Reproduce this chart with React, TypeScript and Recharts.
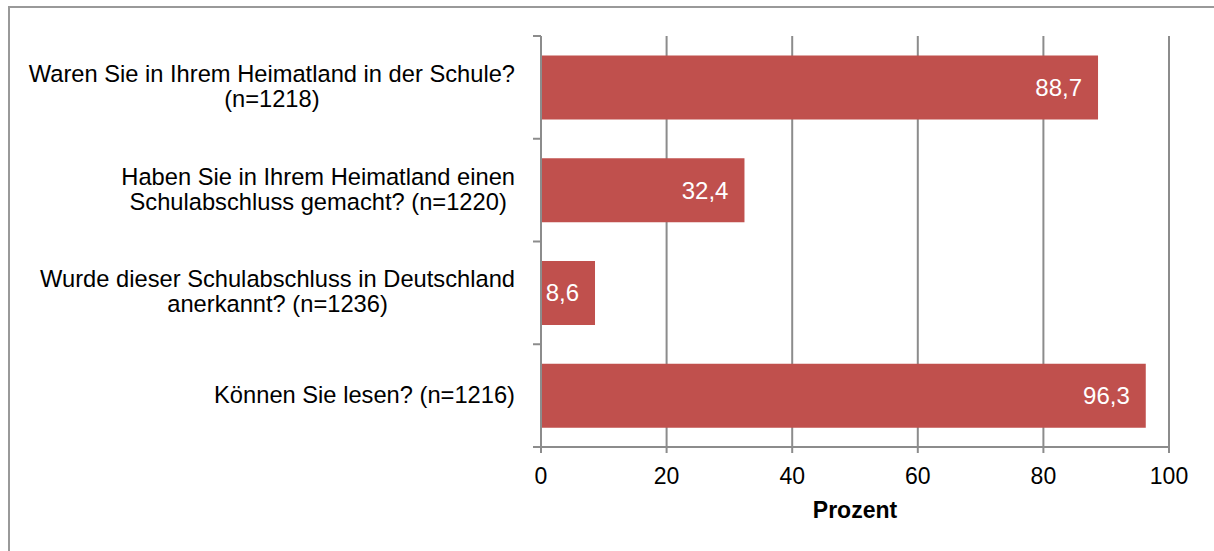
import React from 'react';
import { BarChart, Bar, XAxis, YAxis, CartesianGrid, LabelList, Label } from 'recharts';

const categories = [
  'Waren Sie in Ihrem Heimatland in der Schule?\n(n=1218)',
  'Haben Sie in Ihrem Heimatland einen\nSchulabschluss gemacht? (n=1220)',
  'Wurde dieser Schulabschluss in Deutschland\nanerkannt? (n=1236)',
  'Können Sie lesen? (n=1216)',
];
const percent = [88.7, 32.4, 8.6, 96.3];
const xTicks = [0, 20, 40, 60, 80, 100];
const axisTitle = 'Prozent';

const FONT = "'Liberation Sans', Arial, sans-serif";
const GREY = '#8c8c8c';
const BAR = '#c0504d';
const LINE_H = 25;
const CAT_SIZE = 23.7;

let ctx: CanvasRenderingContext2D | null = null;
function textWidth(s: string, size: number) {
  if (!ctx) ctx = document.createElement('canvas').getContext('2d');
  if (!ctx) return s.length * size * 0.5;
  ctx.font = `${size}px ${FONT}`;
  return ctx.measureText(s).width;
}

// Excel style: tick marks sit between the categories, text block centred per line
// eslint-disable-next-line @typescript-eslint/no-explicit-any
function CategoryTick(props: any) {
  const { x, y, payload, index, visibleTicksCount } = props;
  const lines = String(payload.value).split('\n');
  const half = payload.offset ?? 0;
  const maxW = Math.max(...lines.map(l => textWidth(l, CAT_SIZE)));
  const cx = x - 26 - maxW / 2;
  const top = y - ((lines.length - 1) * LINE_H) / 2;
  return (
    <g>
      <line x1={x - 8} x2={x} y1={y - half} y2={y - half} stroke={GREY} strokeWidth={2} />
      {index === visibleTicksCount - 1 && (
        <line x1={x - 8} x2={x} y1={y + half} y2={y + half} stroke={GREY} strokeWidth={2} />
      )}
      <text textAnchor="middle" fontSize={CAT_SIZE} fontFamily={FONT} fill="#000">
        {lines.map((l, i) => (
          <tspan key={i} x={cx} y={top + i * LINE_H} dy="0.3em">{l}</tspan>
        ))}
      </text>
    </g>
  );
}

// eslint-disable-next-line @typescript-eslint/no-explicit-any
function ValueLabel(props: any) {
  const { x, y, width, height, value } = props;
  const label = Number(value).toFixed(1).replace('.', ',');
  return (
    <text
      x={x + width - 16}
      y={y + height / 2}
      dy="0.35em"
      textAnchor="end"
      fill="#fff"
      fontSize={24}
      fontFamily={FONT}
    >
      {label}
    </text>
  );
}

// eslint-disable-next-line @typescript-eslint/no-explicit-any
function AxisTitle(props: any) {
  const vb = props.viewBox;
  return (
    <text
      x={vb.x + vb.width / 2}
      y={vb.y + 71}
      textAnchor="middle"
      fontSize={23}
      fontWeight={700}
      fontFamily={FONT}
      fill="#000"
    >
      {axisTitle}
    </text>
  );
}

export default function App() {
  const data = categories.map((name, i) => ({ name, value: percent[i] }));

  return (
    <div style={{
      position: 'absolute', left: 0, top: 0, width: 1214, height: 551,
      overflow: 'hidden', background: '#fff',
    }}>
      <div style={{
        position: 'absolute', left: 8, top: 6, width: 1400, height: 800,
        border: `2px solid #999`,
      }} />
      <div style={{ position: 'relative' }}>
        <BarChart
          width={1214}
          height={551}
          layout="vertical"
          data={data}
          margin={{ top: 36, right: 45, bottom: 24, left: 0 }}
          barCategoryGap="19%"
        >
          <CartesianGrid horizontal={false} stroke={GREY} strokeWidth={2} />
          <XAxis
            type="number"
            domain={[0, 100]}
            ticks={xTicks}
            height={80}
            axisLine={{ stroke: GREY, strokeWidth: 2 }}
            tickLine={{ stroke: GREY, strokeWidth: 2 }}
            tickSize={6}
            tickMargin={15}
            tick={{ fill: '#000', fontSize: 23, fontFamily: FONT }}
          >
            <Label content={<AxisTitle />} />
          </XAxis>
          <YAxis
            type="category"
            dataKey="name"
            width={541}
            interval={0}
            axisLine={{ stroke: GREY, strokeWidth: 2 }}
            tickLine={false}
            tickSize={0}
            tickMargin={0}
            tick={<CategoryTick />}
          />
          <Bar dataKey="value" fill={BAR} isAnimationActive={false}>
            <LabelList dataKey="value" content={<ValueLabel />} />
          </Bar>
        </BarChart>
      </div>
    </div>
  );
}
